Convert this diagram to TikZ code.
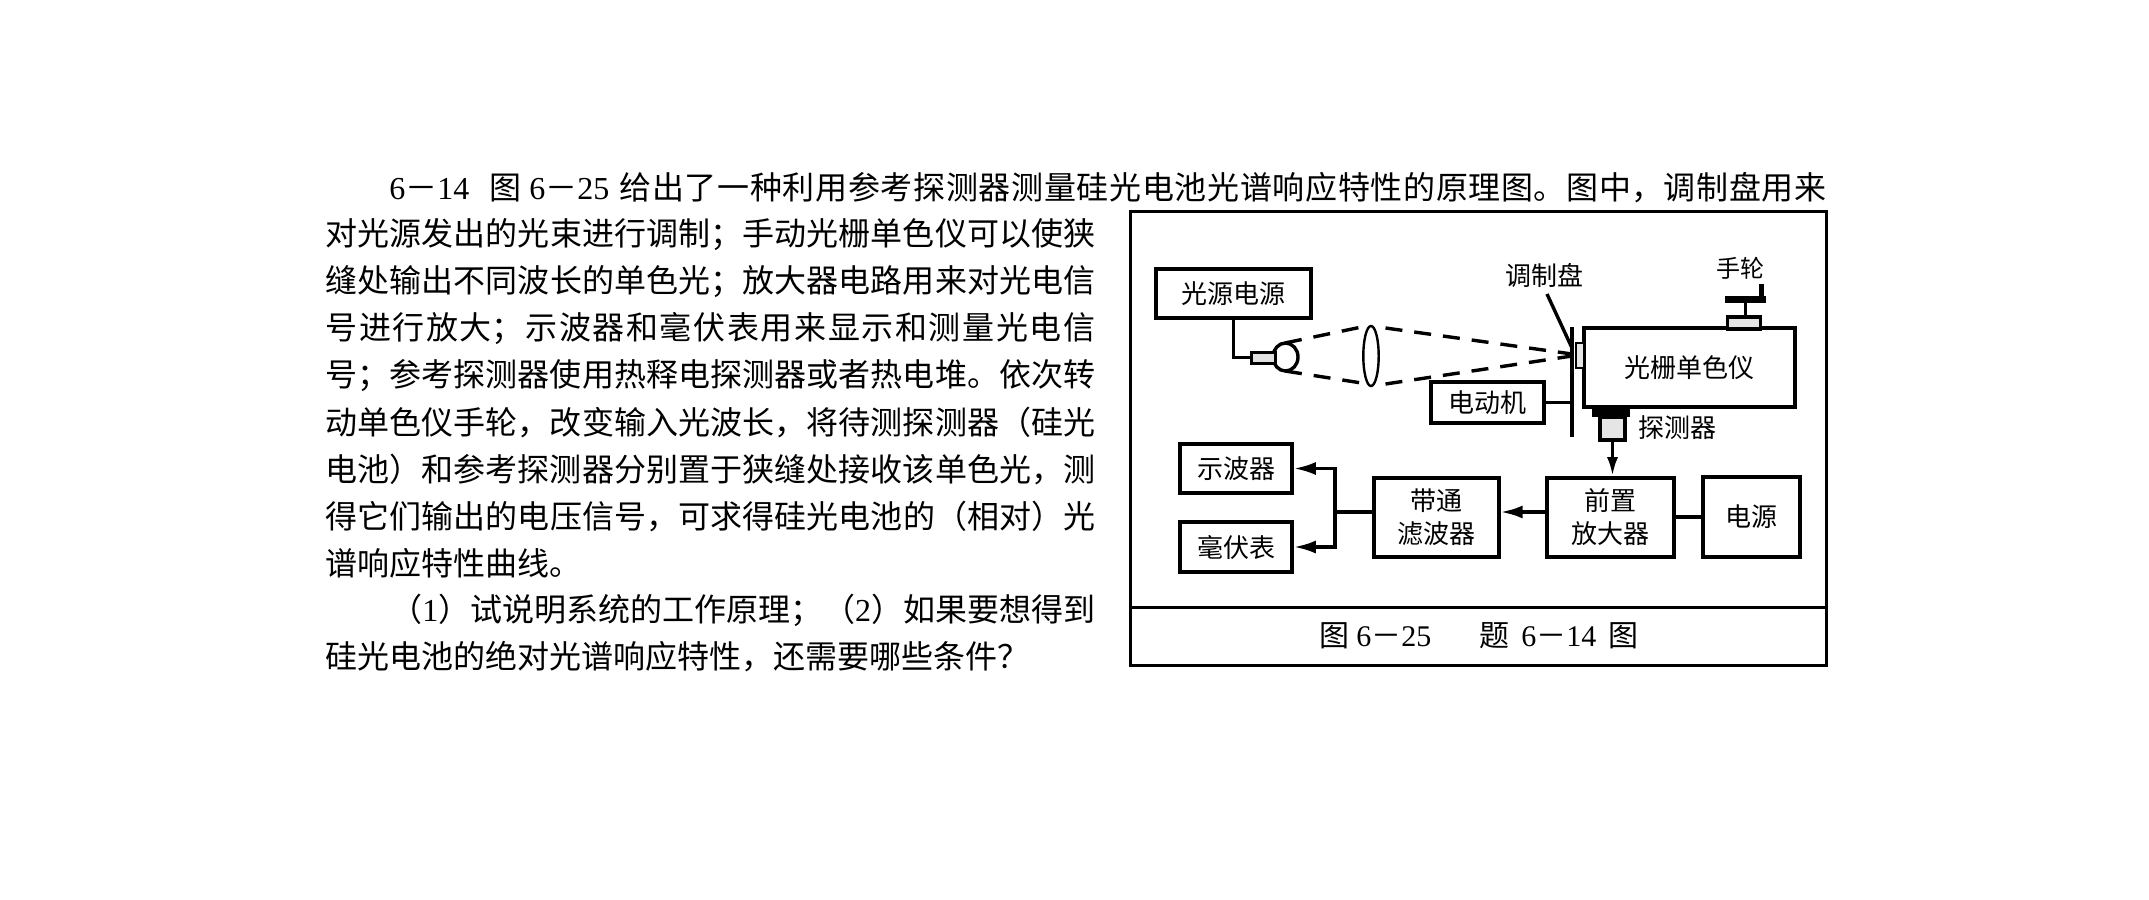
\documentclass[tikz,border=0pt]{standalone}
\usepackage{fontspec}
\setmainfont{Noto Sans CJK SC}
\newfontfamily\latfont{Liberation Serif}
\newcommand{\dg}[1]{{\latfont #1}}
\XeTeXlinebreaklocale "zh"
\XeTeXlinebreakskip=0pt plus 2pt minus 1pt
\usetikzlibrary{arrows.meta,shapes.geometric}
\tikzset{
  para/.style={anchor=west,inner sep=0pt,align=justify,text width=#1,
    font=\fontsize{16}{20}\selectfont,execute at begin node={\parfillskip=0pt\relax}},
  plain/.style={anchor=west,inner sep=0pt,font=\fontsize{16}{20}\selectfont},
  box/.style={draw,line width=1.8pt,inner sep=0pt,align=center,
    font=\fontsize{13}{16.5}\selectfont},
  wire/.style={line width=1.7pt},
  beam/.style={line width=1.7pt,dash pattern=on 8.5pt off 6pt},
  tiplong/.style={-{Latex[length=9.5pt,width=5.5pt]}},
  tipshort/.style={-{Latex[length=11pt,width=6.5pt]}},
  lab/.style={inner sep=0pt,font=\fontsize{13}{16}\selectfont}
}
\begin{document}
\begin{tikzpicture}[x=0.5pt,y=-0.5pt]
  \useasboundingbox[fill=white] (0,0) rectangle (2149,900);

  % text on the left
  \node[para=718.5pt] (l0) at (389,187.5) {\dg{6}－\dg{14}\hspace{10pt}图\hspace{4pt}\dg{6}－\dg{25}\hspace{5pt}给出了一种利用参考探测器测量硅光电池光谱响应特性的原理图。图中，调制盘用来};
  \node[para=385pt] (l1) at (325,234.5) {对光源发出的光束进行调制；手动光栅单色仪可以使狭};
  \node[para=385pt] (l2) at (325,281.5) {缝处输出不同波长的单色光；放大器电路用来对光电信};
  \node[para=385pt] (l3) at (325,328.5) {号进行放大；示波器和毫伏表用来显示和测量光电信};
  \node[para=385pt] (l4) at (325,375.5) {号；参考探测器使用热释电探测器或者热电堆。依次转};
  \node[para=385pt] (l5) at (325,423) {动单色仪手轮，改变输入光波长，将待测探测器（硅光};
  \node[para=385pt] (l6) at (325,470) {电池）和参考探测器分别置于狭缝处接收该单色光，测};
  \node[para=385pt] (l7) at (325,517) {得它们输出的电压信号，可求得硅光电池的（相对）光};
  \node[plain] (l8) at (325,563) {谱响应特性曲线。};
  \node[para=352.5pt] (l9) at (390,610) {（\dg{1}）试说明系统的工作原理；（\dg{2}）如果要想得到};
  \node[plain] (l10) at (325,657) {硅光电池的绝对光谱响应特性，还需要哪些条件？};

  % frame and caption
  \node[draw,line width=1.5pt,minimum width=347.75pt,minimum height=226.75pt] (frame) at (1478.25,438.25) {};
  \coordinate (sepl) at (1130.5,607);
  \coordinate (sepr) at (1826,607);
  \draw[line width=1.5pt] (sepl) -- (sepr);
  \node[inner sep=0pt,font=\fontsize{15}{18}\selectfont] (cap) at (1479,636) {图 \dg{6}－\dg{25}\hspace{24pt}题\hspace{6pt}\dg{6}－\dg{14}\hspace{6pt}图};

  % boxes
  \node[box,minimum width=77.5pt,minimum height=24.5pt] (psu) at (1233.5,293.5) {光源电源};
  \node[box,minimum width=105.5pt,minimum height=39.5pt] (mono) at (1689.5,367.5) {光栅单色仪};
  \node[box,minimum width=56.5pt,minimum height=20.5pt] (motor) at (1487.7,402.5) {电动机};
  \node[box,minimum width=56pt,minimum height=24.5pt] (scope) at (1236,468.5) {示波器};
  \node[box,minimum width=56pt,minimum height=25pt] (mv) at (1236,547) {毫伏表};
  \node[box,minimum width=62.5pt,minimum height=39.5pt] (bpf) at (1436.3,517.5) {带通\\滤波器};
  \node[box,minimum width=63.5pt,minimum height=39.5pt] (pre) at (1610.5,517.5) {前置\\放大器};
  \node[box,minimum width=48.5pt,minimum height=40pt] (pwr) at (1751.7,517) {电源};

  % lamp and lens
  \node[ellipse,draw,line width=1.7pt,fill=white,inner sep=0pt,minimum width=12.5pt,minimum height=14pt] (bulb) at (1285.5,357) {};
  \node[draw,line width=1.5pt,fill=black!12,inner sep=0pt,minimum width=11.75pt,minimum height=5.5pt] (socket) at (1263.7,357.5) {};
  \node[ellipse,draw,line width=1.2pt,inner sep=0pt,minimum width=7.7pt,minimum height=30pt] (lens) at (1371,356) {};
  \draw[wire] (psu.south) |- (socket.west);

  % beams
  \coordinate (bulbu) at (1285,343);
  \coordinate (bulbd) at (1285,371);
  \coordinate (lensul) at (1361.6,327);
  \coordinate (lensdl) at (1361.6,383);
  \coordinate (lensur) at (1385.5,328);
  \coordinate (lensdr) at (1385.5,384);
  \coordinate (focu) at (1572,354);
  \coordinate (focd) at (1572,356);
  \draw[beam] (bulbu) -- (lensul);
  \draw[beam] (bulbd) -- (lensdl);
  \draw[beam] (lensur) -- (focu);
  \draw[beam] (lensdr) -- (focd);

  % modulator disc
  \coordinate (disct) at (1572,327);
  \coordinate (discb) at (1572,437);
  \coordinate (ptr) at (1547,294);
  \coordinate (ptre) at (1572,348);
  \draw[wire] (disct) -- (discb);
  \draw[wire] (ptr) -- (ptre);
  \draw[wire] (motor.east) -- (motor.east -| disct);
  \node[draw,line width=1.3pt,fill=black!10,inner sep=0pt,minimum width=4pt,minimum height=12.5pt] (slit) at (1580,355.5) {};
  \node[lab] (disclab) at (1544,275) {调制盘};

  % hand wheel
  \node[draw,line width=1.6pt,fill=black!10,inner sep=0pt,minimum width=16.5pt,minimum height=6pt] (knobbase) at (1744.3,323) {};
  \node[fill=black,inner sep=0pt,minimum width=20.5pt,minimum height=3.5pt] (knobbar) at (1745.5,299.5) {};
  \node[fill=black,inner sep=0pt,minimum width=2.75pt,minimum height=6.5pt] (knobtip) at (1761.7,290.5) {};
  \draw[wire] (knobbar.south) -- (knobbar.south |- knobbase.north);
  \node[lab,font=\fontsize{12}{15}\selectfont] (knoblab) at (1740.6,268) {手轮};

  % detector
  \node[fill=black,inner sep=0pt,minimum width=19.25pt,minimum height=5pt] (detmount) at (1611.2,412) {};
  \node[draw,line width=1.6pt,fill=black!10,inner sep=0pt,minimum width=12.5pt,minimum height=11.5pt] (det) at (1612.5,428.5) {};
  \node[lab] (detlab) at (1677,428) {探测器};

  % connections
  \draw[wire,tiplong] (det.south) -- (det.south |- pre.north);
  \draw[wire,tipshort] (pre.west |- 0,512) -- (bpf.east |- 0,512);
  \draw[wire] (pre.east |- pwr.west) -- (pwr.west);
  \coordinate (jct) at (1335,512);
  \draw[wire] (bpf.west |- jct) -- (jct);
  \draw[wire,tipshort] (jct) |- (scope.east);
  \draw[wire,tipshort] (jct) |- (mv.east);
\end{tikzpicture}
\end{document}
